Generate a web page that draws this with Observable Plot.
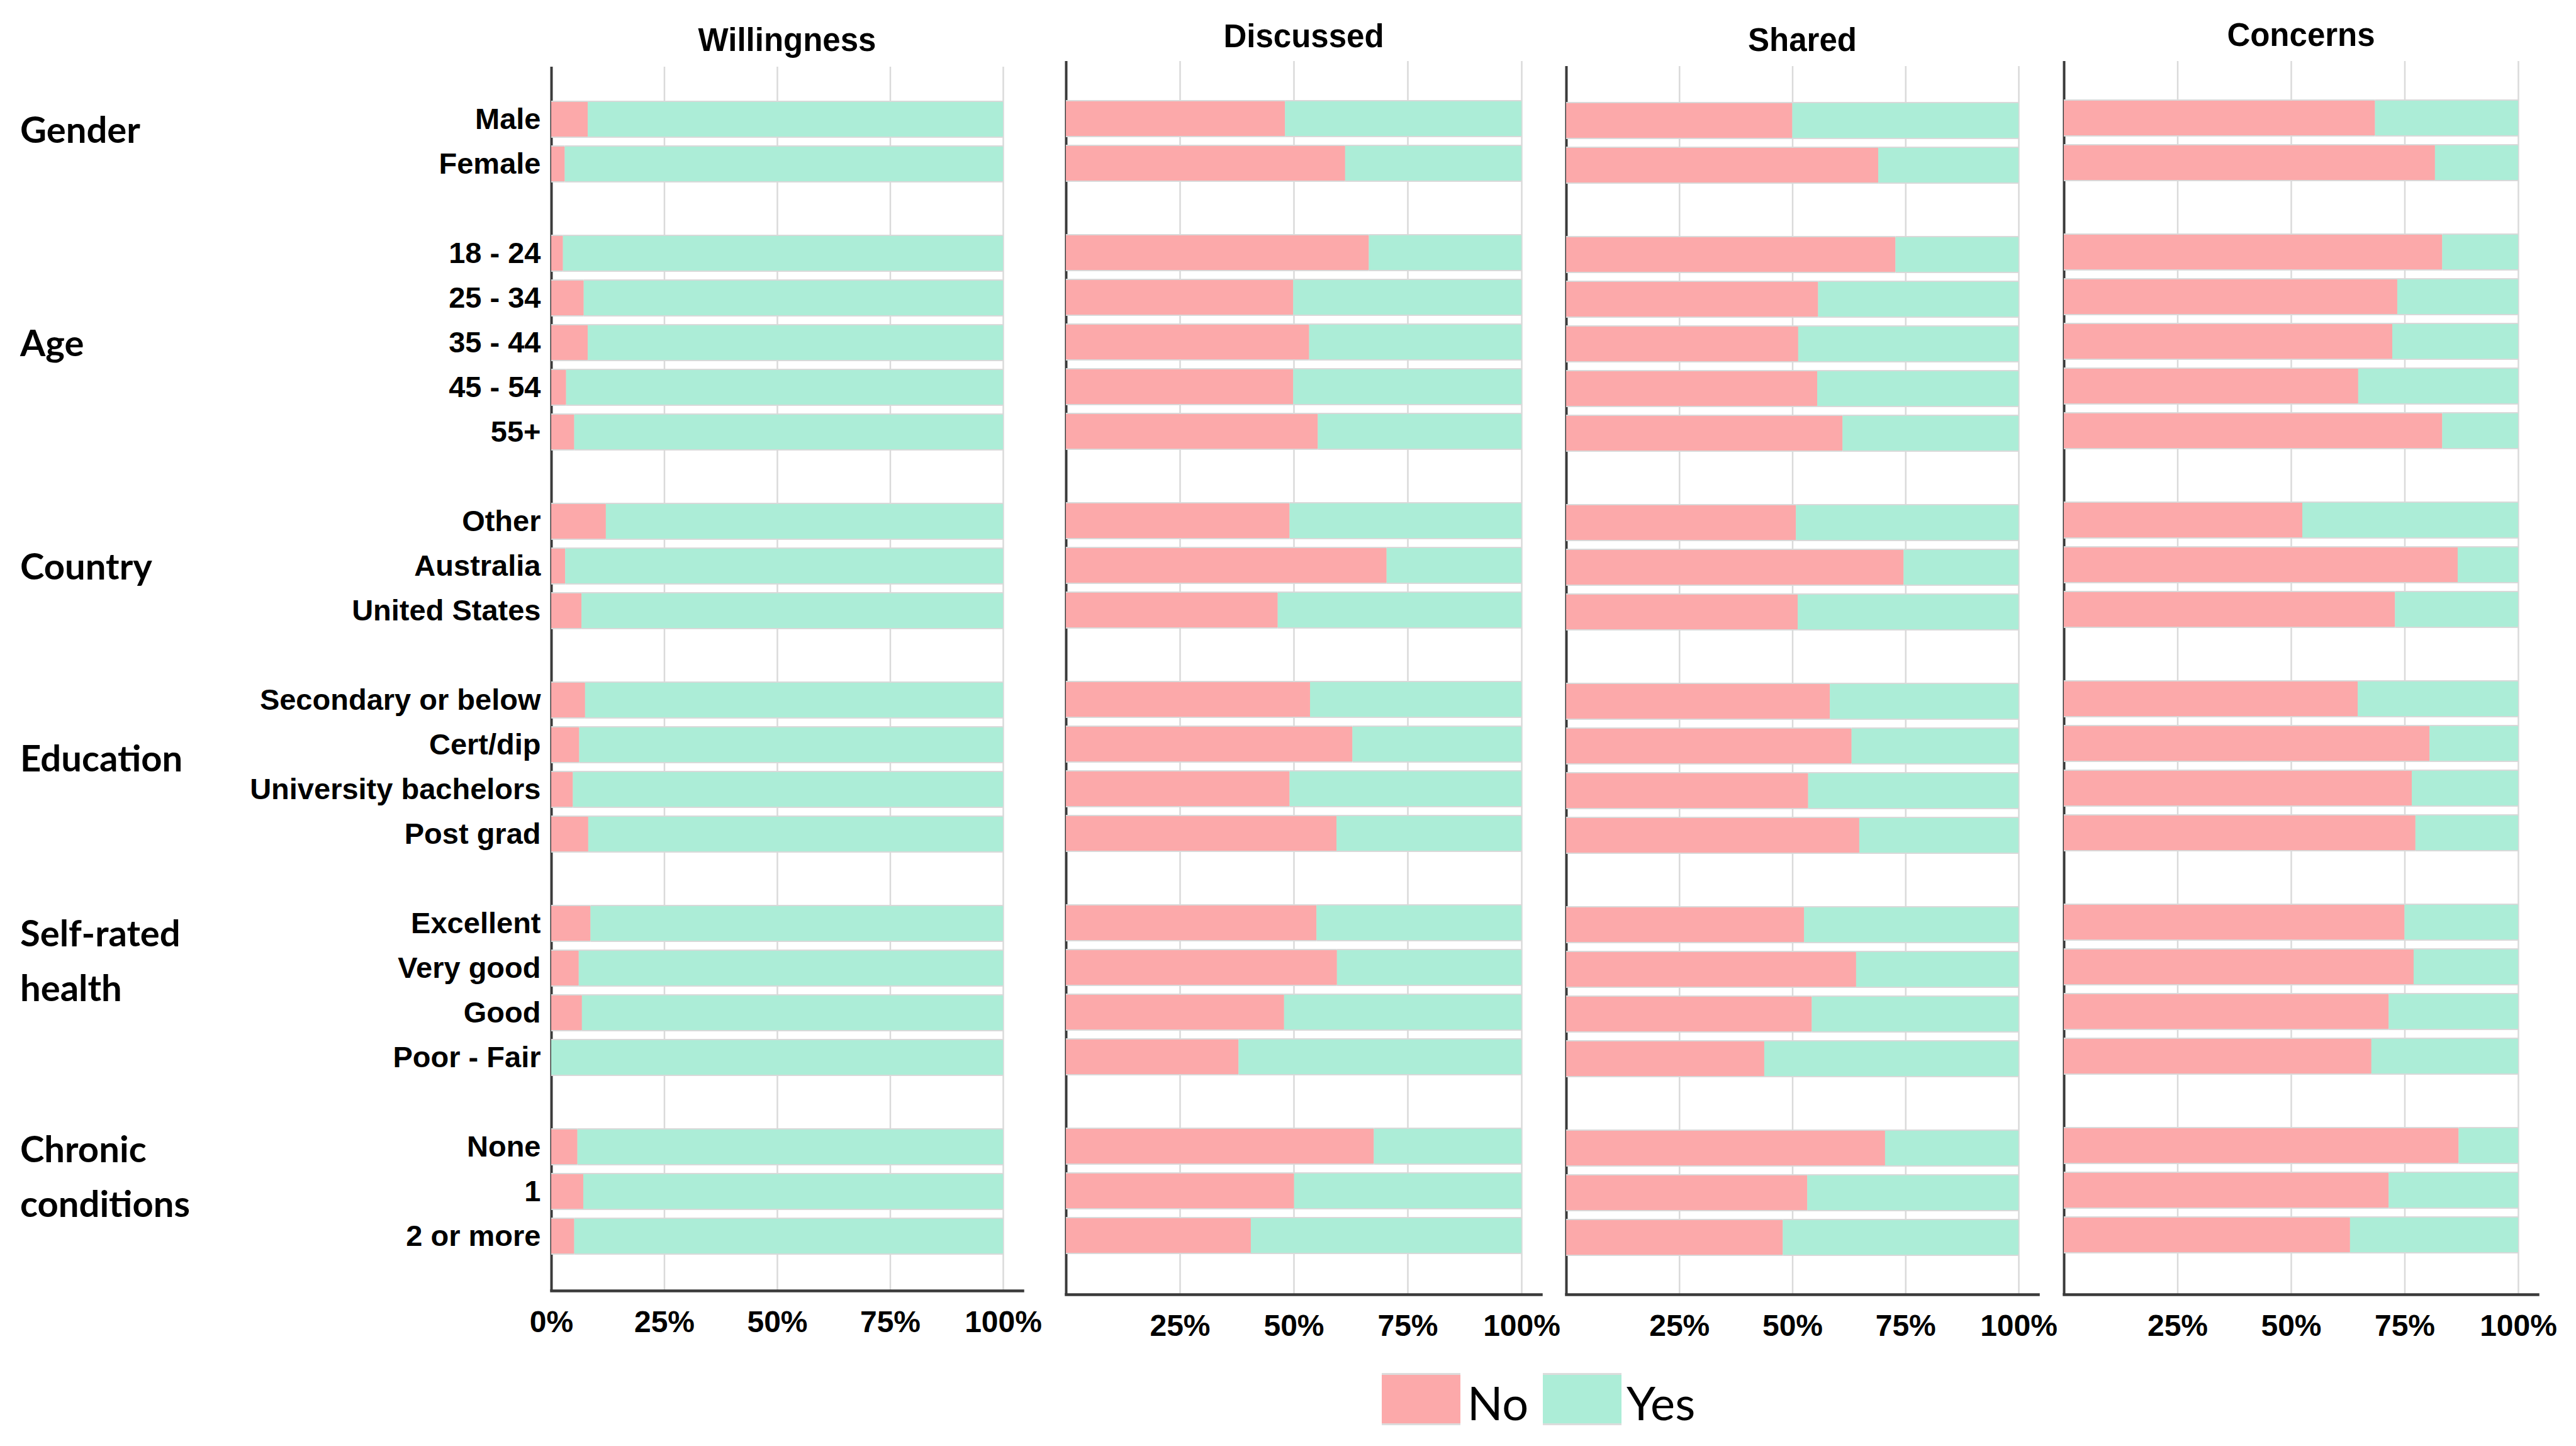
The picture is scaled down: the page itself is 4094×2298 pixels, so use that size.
<!DOCTYPE html>
<html><head><meta charset="utf-8">
<script src="https://cdn.jsdelivr.net/npm/d3@7"></script>
<script src="https://cdn.jsdelivr.net/npm/@observablehq/plot@0.6"></script>
<style>
html,body{margin:0;padding:0;background:#fff;}
#root{position:relative;width:4094px;height:2298px;overflow:hidden;background:#fff;}
#root > *{position:absolute;}
</style></head><body><div id="root"></div>
<script>
// ---------- data ----------
const panels = ["Willingness", "Discussed", "Shared", "Concerns"];
const groups = ["Gender", "Age", "Country", "Education", "Self-rated health", "Chronic conditions"];
const groupLabelLines = [["Gender"], ["Age"], ["Country"], ["Education"], ["Self-rated", "health"], ["Chronic", "conditions"]];
const groupRows = [
  ["Male", "Female"],
  ["18 - 24", "25 - 34", "35 - 44", "45 - 54", "55+"],
  ["Other", "Australia", "United States"],
  ["Secondary or below", "Cert/dip", "University bachelors", "Post grad"],
  ["Excellent", "Very good", "Good", "Poor - Fair"],
  ["None", "1", "2 or more"]
];
const responses = ["No", "Yes"];
const responseColors = ["#FCA9AA", "#ACEDD7"];
// percentage answering "No" (rest = "Yes"), in the row order above
const willingnessNo = [8.1, 3.0, 2.6, 7.2, 8.1, 3.3, 5.1, 12.1, 3.1, 6.7, 7.5, 6.2, 4.8, 8.2, 8.7, 6.1, 6.8, 0, 5.8, 7.1, 5.1];
const discussedNo   = [48.1, 61.3, 66.5, 49.9, 53.4, 49.9, 55.3, 49.1, 70.4, 46.5, 53.6, 62.9, 49.1, 59.4, 55.0, 59.5, 47.9, 37.9, 67.6, 50.1, 40.6];
const sharedNo      = [50.0, 69.0, 72.8, 55.7, 51.3, 55.5, 61.1, 50.8, 74.6, 51.2, 58.3, 63.1, 53.5, 64.8, 52.6, 64.1, 54.3, 43.8, 70.5, 53.3, 47.9];
const concernsNo    = [68.5, 81.7, 83.3, 73.4, 72.3, 64.8, 83.3, 52.5, 86.7, 72.9, 64.7, 80.5, 76.6, 77.4, 75.0, 77.0, 71.5, 67.7, 86.9, 71.5, 63.0];
const panelNo = [willingnessNo, discussedNo, sharedNo, concernsNo];
const xTicksFirst = [0, 0.25, 0.5, 0.75, 1];
const xTicksOther = [0.25, 0.5, 0.75, 1];
const gridTicks = [0, 0.25, 0.5, 0.75, 1];

// ---------- layout (pixels) ----------
const H = 2180;
const layout = [
  {left: 0,    mL: 876, plotW: 718, ext: 31, mR: 50, top: 106, bottom: 2051, yRange: [150.4, 2002.6], titleDx: 0, titleBase: 80, ticks: xTicksFirst, yAxis: true},
  {left: 1674, mL: 20,  plotW: 724, ext: 31, mR: 45, top: 97,  bottom: 2057, yRange: [145.2, 2007.3], titleDx: 0, titleBase: 74, ticks: xTicksOther, yAxis: false},
  {left: 2469, mL: 20,  plotW: 719, ext: 31, mR: 45, top: 105, bottom: 2057, yRange: [151.3, 2006.2], titleDx: 0, titleBase: 80, ticks: xTicksOther, yAxis: false},
  {left: 3260, mL: 20,  plotW: 722, ext: 31, mR: 45, top: 97,  bottom: 2057, yRange: [143.7, 2005.8], titleDx: 0, titleBase: 72, ticks: xTicksOther, yAxis: false}
];

// ---------- build y domain with blank separator slots ----------
const keys = [];
const labelOf = new Map();
groupRows.forEach((rs, gi) => {
  if (gi > 0) keys.push("gap" + gi);
  rs.forEach(r => { const k = groups[gi] + "|" + r; keys.push(k); labelOf.set(k, r); });
});
const rowKeys = keys.filter(k => labelOf.has(k));

const root = document.getElementById("root");

panels.forEach((panel, i) => {
  const L = layout[i];
  const no = panelNo[i];
  const data = rowKeys.flatMap((k, j) => [
    {key: k, resp: "No", v: no[j] / 100},
    {key: k, resp: "Yes", v: (100 - no[j]) / 100}
  ]);
  const width = L.mL + L.plotW + L.ext + L.mR;
  const yOpts = {domain: keys, range: L.yRange, paddingInner: 0.23, paddingOuter: 0.115, align: 0.5};
  if (!L.yAxis) yOpts.axis = null;
  const chart = Plot.plot({
    width, height: H,
    marginLeft: L.mL, marginRight: L.mR, marginTop: L.top, marginBottom: H - L.bottom,
    x: {domain: [0, 1], range: [L.mL, L.mL + L.plotW]},
    y: yOpts,
    color: {domain: responses, range: responseColors},
    style: {fontFamily: "'Liberation Sans', Arial, sans-serif", fontWeight: "bold", fontSize: "48px", color: "#000", background: "transparent", overflow: "visible"},
    marks: [
      Plot.ruleX(gridTicks, {stroke: "#dadada", strokeWidth: 2.5}),
      Plot.ruleX([0], {stroke: "#3a3a3a", strokeWidth: 4}),
      Plot.barX(data, {x: "v", y: "key", fill: "#d9d9d9", insetTop: -2, insetBottom: -2}),
      Plot.barX(data, {x: "v", y: "key", fill: "resp"}),
      Plot.frame({anchor: "bottom", stroke: "#3a3a3a", strokeWidth: 4.5}),
      Plot.axisX(L.ticks, {tickSize: 0, tickPadding: 31, tickFormat: d => Math.round(d * 100) + "%", label: null, fontSize: 48}),
      L.yAxis ? Plot.axisY({tickSize: 0, tickPadding: 17, tickFormat: k => labelOf.get(k) ?? "", label: null, fontSize: 47}) : null,
      Plot.text([panel], {frameAnchor: "top", dx: L.titleDx, dy: L.titleBase - L.top, lineAnchor: "bottom", fontSize: 51, fontWeight: "bold", fill: "#000"})
    ]
  });
  chart.style.left = L.left + "px";
  chart.style.top = "0px";
  root.appendChild(chart);
});

// ---------- group labels and legend ----------
const groupBaselines = [227, 566, 921, 1226, 1504, 1847];
const groupLineGap = 87;
const ov = d3.select(root).append("svg")
  .attr("width", 4094).attr("height", 2298)
  .style("left", "0px").style("top", "0px").style("pointer-events", "none");

groupLabelLines.forEach((lines, gi) => {
  lines.forEach((t, li) => {
    ov.append("text")
      .attr("x", 32).attr("y", groupBaselines[gi] + li * groupLineGap)
      .attr("font-family", "Lato, 'Open Sans', sans-serif")
      .attr("font-weight", 700).attr("font-size", 58).attr("fill", "#000")
      .text(t);
  });
});

const legendItems = [
  {x: 2196, tx: 2332},
  {x: 2452, tx: 2585}
];
responses.forEach((r, i) => {
  const it = legendItems[i];
  ov.append("rect").attr("x", it.x).attr("y", 2182).attr("width", 125).attr("height", 83).attr("fill", "#dcdcdc");
  ov.append("rect").attr("x", it.x).attr("y", 2185).attr("width", 125).attr("height", 77).attr("fill", responseColors[i]);
  ov.append("text").attr("x", it.tx).attr("y", 2257)
    .attr("font-family", "Lato, 'Open Sans', sans-serif")
    .attr("font-weight", 400).attr("font-size", 74).attr("fill", "#000")
    .text(r);
});
</script>
</body></html>
